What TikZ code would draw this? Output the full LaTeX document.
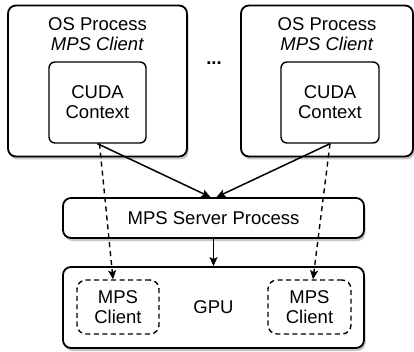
\documentclass[tikz,border=0pt]{standalone}
\usepackage{fontspec}
\setmainfont{Liberation Sans}
\usepackage{tikz}
\usetikzlibrary{arrows.meta,positioning,shadows}

\begin{document}
\begin{tikzpicture}[x=1pt,y=-1pt,->,>={Stealth[length=9pt,width=8pt,inset=2pt]},semithick,
                    font=\fontsize{18.5}{20}\selectfont]
	\tikzstyle{box}=[draw=black,fill=white,line width=1.8pt,rounded corners=8pt,
	                 drop shadow={opacity=0.45,shadow xshift=1.5pt,shadow yshift=-3pt}]
	\tikzstyle{inner}=[draw=black,fill=white,line width=1.4pt,rounded corners=6pt,align=center]
	\tikzstyle{client}=[draw=black,line width=1.4pt,rounded corners=9pt,dash pattern=on 5pt off 3.5pt,align=center]
	\tikzstyle{link}=[line width=1.5pt]
	\tikzstyle{weak}=[line width=1.4pt,dash pattern=on 5pt off 4pt]
	\useasboundingbox (0,0) rectangle (414,352);

	% client processes
	\node[box,minimum width=179pt,minimum height=151pt] (P1) at (97.5,81) {};
	\node[box,minimum width=172pt,minimum height=151pt] (P2) at (327,81) {};
	\node[align=center] (T1) at (97.5,34) {OS Process\\\textit{MPS Client}};
	\node[align=center] (T2) at (327,34) {OS Process\\\textit{MPS Client}};
	\node[inner,minimum width=97pt,minimum height=81pt] (C1) at (97.5,102.5) {CUDA\\Context};
	\node[inner,minimum width=98pt,minimum height=81pt] (C2) at (330,102.5) {CUDA\\Context};
	\node[font=\fontsize{18.5}{20}\bfseries] (D) at (214,63) {...};

	% server and gpu
	\node[box,minimum width=301pt,minimum height=40pt] (S) at (213.5,218) {MPS Server Process};
	\node[box,minimum width=301pt,minimum height=81pt] (G) at (213.5,307.5) {};
	\node (GPU) at (213.5,307) {GPU};
	\node[client,minimum width=82pt,minimum height=54pt] (M1) at (118,307) {MPS\\Client};
	\node[client,minimum width=83pt,minimum height=54pt] (M2) at (309.5,307) {MPS\\Client};

	\draw[link] (C1.south) -- ([xshift=-3pt]S.north);
	\draw[link] (C2.south) -- ([xshift=3pt]S.north);
	\draw[link] (S.south) -- (G.north);
	\draw[weak] ([xshift=2pt]C1.south) -- ([xshift=-5pt]M1.north);
	\draw[weak] (C2.south) -- ([xshift=3.5pt]M2.north);
\end{tikzpicture}
\end{document}
